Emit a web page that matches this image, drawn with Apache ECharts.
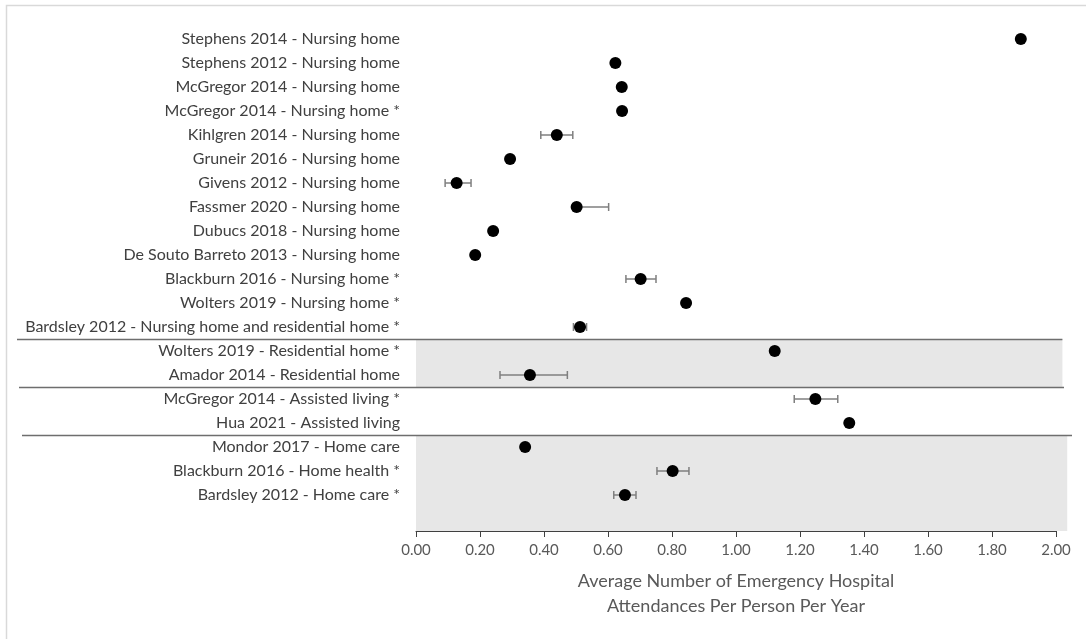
<!DOCTYPE html>
<html>
<head>
<meta charset="utf-8">
<script src="https://cdn.jsdelivr.net/npm/echarts@6/dist/echarts.min.js"></script>
<style>
html,body{margin:0;padding:0;background:#fff;}
#c{width:1086px;height:639px;}
</style>
</head>
<body>
<div id="c"></div>
<script>
// Categories, listed top to bottom (last one is an empty spacer row)
var categories = [
  'Stephens 2014 - Nursing home',
  'Stephens 2012 - Nursing home',
  'McGregor 2014 - Nursing home',
  'McGregor 2014 - Nursing home *',
  'Kihlgren 2014 - Nursing home',
  'Gruneir 2016 - Nursing home',
  'Givens 2012 - Nursing home',
  'Fassmer 2020 - Nursing home',
  'Dubucs 2018 - Nursing home',
  'De Souto Barreto 2013 - Nursing home',
  'Blackburn 2016 - Nursing home *',
  'Wolters 2019 - Nursing home *',
  'Bardsley 2012 - Nursing home and residential home *',
  'Wolters 2019 - Residential home *',
  'Amador 2014 - Residential home',
  'McGregor 2014 - Assisted living *',
  'Hua 2021 - Assisted living',
  'Mondor 2017 - Home care',
  'Blackburn 2016 - Home health *',
  'Bardsley 2012 - Home care *',
  ''
];
var values = [1.89, 0.623, 0.643, 0.644, 0.44, 0.294, 0.127, 0.502, 0.241, 0.185, 0.702, 0.844, 0.5125, 1.121, 0.356, 1.248, 1.354, 0.341, 0.802, 0.653, null];
var lows   = [null, null, null, null, 0.39, null, 0.091, 0.49, null, null, 0.656, null, 0.492, null, 0.2625, 1.182, null, null, 0.753, 0.618, null];
var highs  = [null, null, null, null, 0.49, null, 0.172, 0.602, null, null, 0.75, null, 0.533, null, 0.473, 1.318, null, null, 0.853, 0.6875, null];
var xTicks = [0, 0.2, 0.4, 0.6, 0.8, 1.0, 1.2, 1.4, 1.6, 1.8, 2.0];
// group separators: line drawn below these row indices
var separatorsAfter = [12, 14, 16];
// shaded groups: [first row, last row, right extent in data units]
var shadedBands = [[13, 14, 2.02], [17, 20, 2.035]];

var FONT = 'Lato, "Noto Sans", sans-serif';
var chart = echarts.init(document.getElementById('c'), null, {renderer: 'canvas'});

var scatterData = [];
var errData = [];
for (var i = 0; i < categories.length; i++) {
  if (values[i] != null) scatterData.push([values[i], i]);
  if (lows[i] != null) errData.push([lows[i], highs[i], i]);
}

chart.setOption({
  animation: false,
  backgroundColor: '#ffffff',
  grid: {left: 416, right: 30, top: 27, bottom: 108, containLabel: false},
  xAxis: {
    type: 'value', min: 0, max: 2, interval: 0.2,
    axisLine: {show: true, lineStyle: {color: '#404040', width: 1}},
    axisTick: {show: true, length: 6, lineStyle: {color: '#404040'}},
    splitLine: {show: false},
    axisLabel: {color: '#595959', fontFamily: FONT, fontSize: 15, margin: 12,
      formatter: function (v) { return v.toFixed(2); }},
    name: 'Average Number of Emergency Hospital\nAttendances Per Person Per Year',
    nameLocation: 'middle', nameGap: 38,
    nameTextStyle: {color: '#595959', fontFamily: FONT, fontSize: 18, lineHeight: 25}
  },
  yAxis: {
    type: 'category', data: categories, inverse: true, boundaryGap: true,
    axisLine: {show: false}, axisTick: {show: false}, splitLine: {show: false},
    axisLabel: {color: '#404040', fontFamily: FONT, fontSize: 16, margin: 16, interval: 0}
  },
  series: [
    {
      type: 'custom', z: 3,
      renderItem: function (params, api) {
        var y = api.value(2);
        var p1 = api.coord([api.value(0), y]);
        var p2 = api.coord([api.value(1), y]);
        var h = 4;
        var st = {stroke: '#7f7f7f', lineWidth: 1.5};
        return {type: 'group', children: [
          {type: 'line', shape: {x1: p1[0], y1: p1[1], x2: p2[0], y2: p2[1]}, style: st},
          {type: 'line', shape: {x1: p1[0], y1: p1[1] - h, x2: p1[0], y2: p1[1] + h}, style: st},
          {type: 'line', shape: {x1: p2[0], y1: p2[1] - h, x2: p2[0], y2: p2[1] + h}, style: st}
        ]};
      },
      encode: {x: [0, 1], y: 2},
      data: errData
    },
    {
      type: 'scatter', z: 4, symbol: 'circle', symbolSize: 12,
      itemStyle: {color: '#000000', opacity: 1},
      data: scatterData
    }
  ]
});

function rowY(i) { return chart.convertToPixel({yAxisIndex: 0}, i); }
var step = rowY(1) - rowY(0);
var x0 = chart.convertToPixel({xAxisIndex: 0}, 0);
var g = [];
shadedBands.forEach(function (b) {
  var yTop = rowY(b[0]) - step / 2;
  var yBot = Math.min(rowY(b[1]) + step / 2, chart.getHeight() - 108);
  var xr = chart.convertToPixel({xAxisIndex: 0}, b[2]);
  g.push({type: 'rect', z: -10, shape: {x: x0, y: yTop, width: xr - x0, height: yBot - yTop},
    style: {fill: '#e7e7e7'}});
});
var lineExt = [[17, 2.02], [19, 2.025], [22, 2.05]];
separatorsAfter.forEach(function (r, k) {
  var y = Math.round(rowY(r) + step / 2) + 0.5;
  var xr = chart.convertToPixel({xAxisIndex: 0}, lineExt[k][1]);
  g.push({type: 'line', z: 1, shape: {x1: lineExt[k][0], y1: y, x2: xr, y2: y},
    style: {stroke: '#6e6e6e', lineWidth: 1.5}});
});
// outer frame (extends past right/bottom edges as in the reference)
g.push({type: 'rect', z: -20, shape: {x: 6.5, y: 5.5, width: 1200, height: 800},
  style: {fill: null, stroke: '#d9d9d9', lineWidth: 1.5}});
chart.setOption({graphic: g});
</script>
</body>
</html>
